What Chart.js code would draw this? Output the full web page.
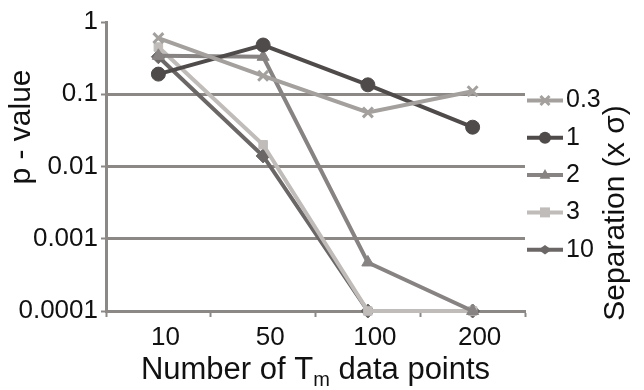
<!DOCTYPE html>
<html>
<head>
<meta charset="utf-8">
<script src="https://cdn.jsdelivr.net/npm/chart.js@4"></script>
<style>
  html, body { margin: 0; padding: 0; background: #fff; }
  #wrap { width: 644px; height: 390px; }
</style>
</head>
<body>
<div id="wrap"><canvas id="chart" width="644" height="390"></canvas></div>
<script>
// Data
const categories = ["10", "50", "100", "200"];
const sepLabels = ["0.3", "1", "2", "3", "10"];
const p03 = [0.6, 0.18, 0.056, 0.11];
const p1 = [0.19, 0.48, 0.135, 0.035];
const p2 = [0.34, 0.33, 0.00047, 0.0001];
const p3 = [0.45, 0.02, 0.0001, 0.0001];
const p10 = [0.33, 0.014, 0.0001, 0.0001];
const yTicks = [0.0001, 0.001, 0.01, 0.1, 1];

const seriesValues = [p03, p1, p2, p3, p10];
const seriesColors = ["#a3a09e", "#4f4b4a", "#878382", "#bfbcba", "#6b6766"];
const seriesStyles = ["crossRot", "circle", "triangle", "rect", "rectRot"];
const seriesRadius = [7, 7, 7, 6, 7];

const axisGray = "#8c8886";
const font = "'Liberation Sans', Arial, sans-serif";

// draws a marker like the chart's own point styles (used for the legend)
function drawMarker(ctx, style, x, y, r, color) {
  ctx.save();
  ctx.fillStyle = color;
  ctx.strokeStyle = color;
  ctx.lineWidth = 3;
  ctx.beginPath();
  if (style === "circle") {
    ctx.arc(x, y, r, 0, Math.PI * 2);
    ctx.fill();
  } else if (style === "crossRot") {
    const d = r * 0.75;
    ctx.moveTo(x - d, y - d); ctx.lineTo(x + d, y + d);
    ctx.moveTo(x + d, y - d); ctx.lineTo(x - d, y + d);
    ctx.stroke();
  } else if (style === "triangle") {
    ctx.moveTo(x, y - r);
    ctx.lineTo(x + r * 0.9, y + r * 0.6);
    ctx.lineTo(x - r * 0.9, y + r * 0.6);
    ctx.closePath();
    ctx.fill();
  } else if (style === "rect") {
    ctx.rect(x - r, y - r, r * 2, r * 2);
    ctx.fill();
  } else {
    ctx.moveTo(x, y - r * 0.8); ctx.lineTo(x + r * 1.1, y);
    ctx.lineTo(x, y + r * 0.8); ctx.lineTo(x - r * 1.1, y);
    ctx.closePath();
    ctx.fill();
  }
  ctx.restore();
}

// Titles and legend drawn by hand
const extras = {
  id: "extras",
  afterDraw(chart) {
    const ctx = chart.ctx;
    const area = chart.chartArea;
    ctx.save();
    ctx.fillStyle = "#111";
    ctx.textBaseline = "middle";

    // y title
    ctx.save();
    ctx.translate(22, 127);
    ctx.rotate(-Math.PI / 2);
    ctx.textAlign = "center";
    ctx.font = "30px " + font;
    ctx.fillText("p - value", 0, 0);
    ctx.restore();

    // x title with subscript
    const big = "31px " + font, small = "20px " + font;
    const a = "Number of T", b = "m", c = " data points";
    ctx.font = big; const wa = ctx.measureText(a).width, wc = ctx.measureText(c).width;
    ctx.font = small; const wb = ctx.measureText(b).width;
    let x = (area.left + area.right) / 2 - (wa + wb + wc) / 2;
    const ty = 370;
    ctx.textAlign = "left";
    ctx.font = big; ctx.fillText(a, x, ty); x += wa;
    ctx.font = small; ctx.fillText(b, x, ty + 10); x += wb;
    ctx.font = big; ctx.fillText(c, x, ty);

    // legend
    chart.data.datasets.forEach((ds, i) => {
      const ly = 100.5 + i * 37.3;
      ctx.strokeStyle = ds.borderColor;
      ctx.lineWidth = 4;
      ctx.beginPath();
      ctx.moveTo(527, ly); ctx.lineTo(563, ly);
      ctx.stroke();
      drawMarker(ctx, seriesStyles[i], 545, ly, seriesRadius[i] - 1, ds.borderColor);
      ctx.fillStyle = "#111";
      ctx.font = "25px " + font;
      ctx.textAlign = "left";
      ctx.fillText(ds.label, 566, ly);
    });

    // right title
    ctx.save();
    ctx.translate(616, 213);
    ctx.rotate(-Math.PI / 2);
    ctx.textAlign = "center";
    ctx.font = "30px " + font;
    ctx.fillText("Separation (x \u03c3)", 0, 0);
    ctx.restore();

    ctx.restore();
  }
};

new Chart(document.getElementById("chart"), {
  type: "line",
  plugins: [extras],
  data: {
    labels: categories,
    datasets: sepLabels.map((lab, i) => ({
      label: lab,
      data: seriesValues[i],
      borderColor: seriesColors[i],
      backgroundColor: seriesColors[i],
      borderWidth: 4,
      pointStyle: seriesStyles[i],
      pointRadius: seriesRadius[i],
      pointBorderWidth: seriesStyles[i] === "crossRot" ? 3 : 1,
      tension: 0,
      clip: false,
    })),
  },
  options: {
    responsive: false,
    animation: false,
    layout: { padding: { left: 0, top: 22, right: 119, bottom: 29 } },
    plugins: {
      legend: { display: false },
      tooltip: { enabled: false },
    },
    scales: {
      x: {
        offset: true,
        grid: {
          offset: true,
          drawOnChartArea: false,
          drawTicks: true,
          tickLength: 6,
          tickColor: axisGray,
          tickWidth: 2,
        },
        border: { color: axisGray, width: 3 },
        ticks: { color: "#111", font: { size: 26, family: font }, padding: 5, labelOffset: 7 },
        afterFit: (s) => { s.height = 50; },
      },
      y: {
        type: "logarithmic",
        min: 0.0001,
        max: 1,
        grid: {
          color: (c) => (c.tick && c.tick.value === 1 ? "rgba(0,0,0,0)" : axisGray),
          lineWidth: 3,
          tickColor: axisGray,
          tickLength: 5,
          tickWidth: 2,
        },
        border: { color: axisGray, width: 3 },
        ticks: {
          color: "#111",
          font: { size: 26, family: font },
          padding: 3,
          callback: (v) => v.toString(),
        },
        afterBuildTicks: (s) => { s.ticks = yTicks.map((v) => ({ value: v })); },
        afterFit: (s) => { s.width = 106; },
      },
    },
  },
});
</script>
</body>
</html>
